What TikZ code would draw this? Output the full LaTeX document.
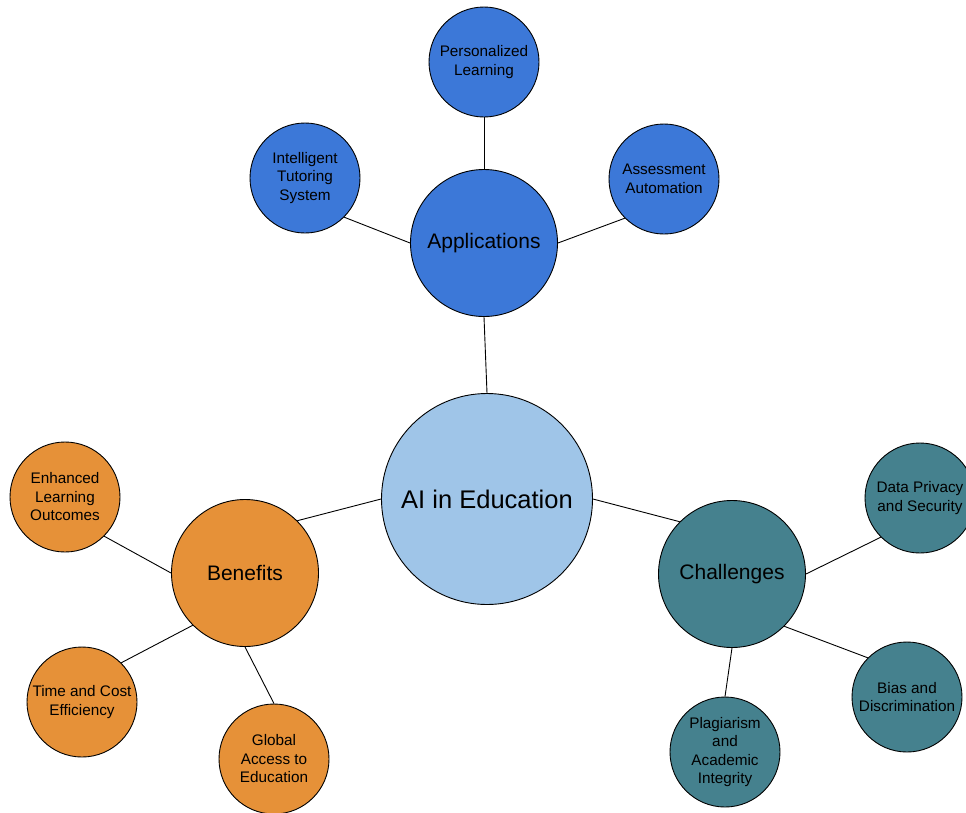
\documentclass[tikz,border=0pt]{standalone}
\usepackage{fontspec}
\setmainfont{Liberation Sans}
\definecolor{appblue}{HTML}{3C78D8}
\definecolor{lightblue}{HTML}{9FC5E8}
\definecolor{orng}{HTML}{E69138}
\definecolor{teal}{HTML}{45818E}
\begin{document}
\begin{tikzpicture}[x=1pt,y=1pt,
  bubble/.style={circle,draw=black,line width=0.9pt,inner sep=0pt,align=center,text=black},
  leaf/.style={bubble,minimum size=110pt,font=\fontsize{15.3}{18.5}\selectfont},
  hub/.style={bubble,minimum size=147pt,font=\fontsize{21}{24}\selectfont},
  core/.style={bubble,minimum size=211pt,font=\fontsize{25.5}{30}\selectfont},
  link/.style={draw=black,line width=0.9pt}]
\useasboundingbox (0,-812) rectangle (966,0);
\node[core,fill=lightblue] (ai) at (487,-499) {AI in Education};
\node[hub,fill=appblue] (app) at (484,-243) {Applications};
\node[hub,fill=orng] (ben) at (245,-573) {Benefits};
\node[hub,fill=teal] (cha) at (732,-574) {Challenges};
\node[leaf,fill=appblue] (pl) at (484,-62) {Personalized\\Learning};
\node[leaf,fill=appblue] (its) at (305,-178) {Intelligent\\Tutoring\\System};
\node[leaf,fill=appblue] (aa) at (664,-179) {Assessment\\Automation};
\node[leaf,fill=orng] (elo) at (65,-497) {Enhanced\\Learning\\Outcomes};
\node[leaf,fill=orng] (tce) at (82,-702) {Time and Cost\\Efficiency};
\node[leaf,fill=orng] (gae) at (274,-759) {Global\\Access to\\Education};
\node[leaf,fill=teal] (dps) at (920,-498) {Data Privacy\\and Security};
\node[leaf,fill=teal] (bd) at (907,-697) {Bias and\\Discrimination};
\node[leaf,fill=teal] (pai) at (725,-752) {Plagiarism\\and\\Academic\\Integrity};
\draw[link] (ai.north) -- (app.south);
\draw[link] (ai.west) -- (ben.north east);
\draw[link] (ai.east) -- (cha.north west);
\draw[link] (app.north) -- (pl.south);
\draw[link] (app.west) -- (its.south east);
\draw[link] (app.east) -- (aa.south west);
\draw[link] (ben.west) -- (elo.south east);
\draw[link] (ben.south west) -- (tce.north east);
\draw[link] (ben.south) -- (gae.north);
\draw[link] (cha.east) -- (dps.south west);
\draw[link] (cha.south east) -- (bd.north west);
\draw[link] (cha.south) -- (pai.north);
\end{tikzpicture}
\end{document}
